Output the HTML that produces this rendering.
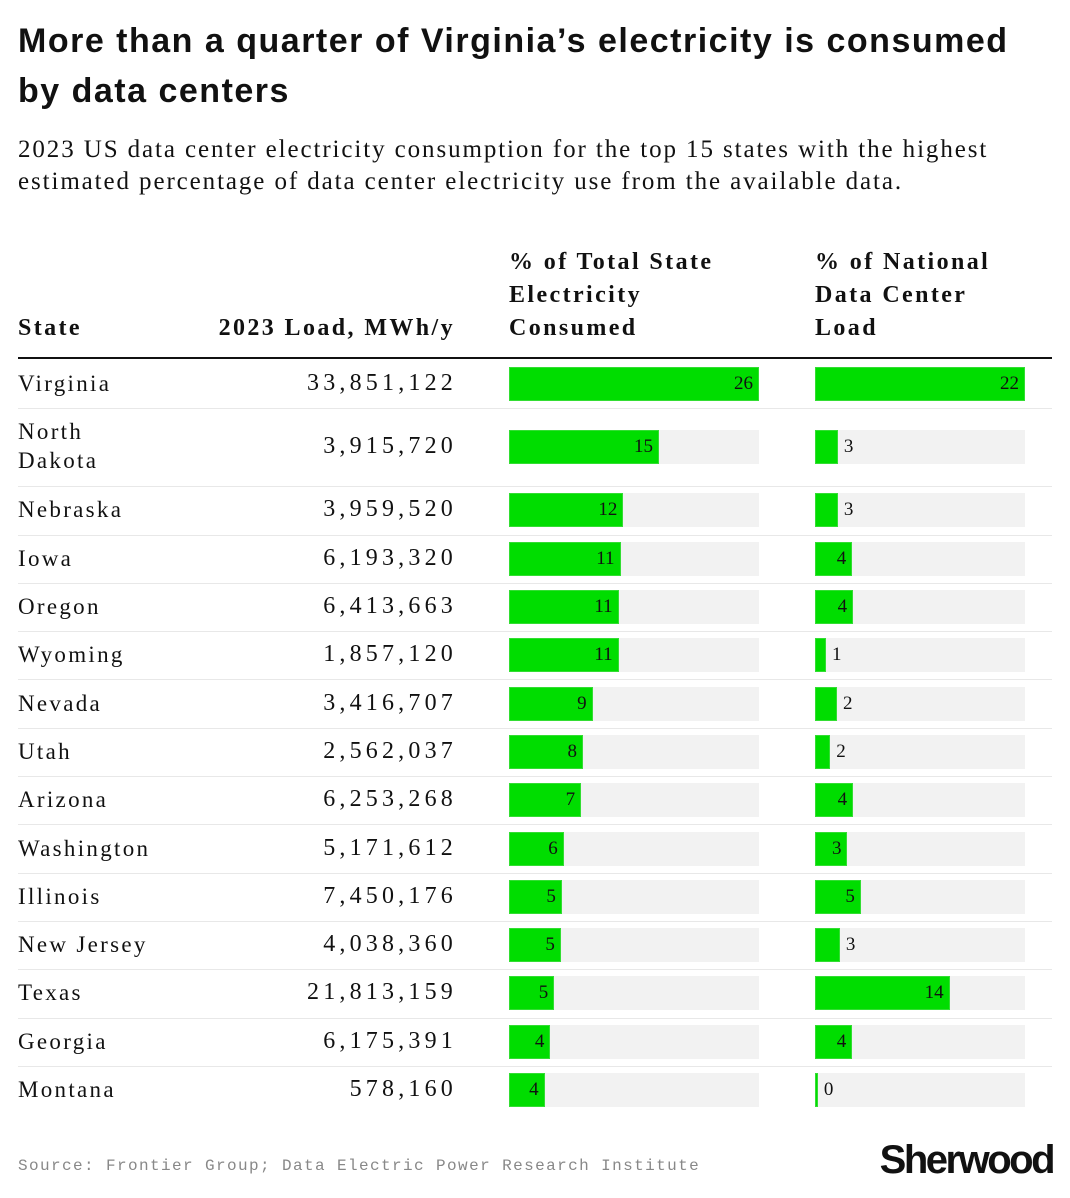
<!DOCTYPE html>
<html><head><meta charset="utf-8"><style>
body{margin:0;width:1070px;height:1198px;background:#fff;position:relative;overflow:hidden;font-family:"Liberation Serif",serif;color:#111}
.t{position:absolute;white-space:nowrap}
h1{position:absolute;left:18px;top:16px;margin:0;font:bold 34px/50px "Liberation Sans",sans-serif;width:1010px;letter-spacing:1.5px}
.sub{left:18px;top:134px;font-size:25px;line-height:32px;white-space:normal;width:1015px;letter-spacing:1.9px}
.hd{font-weight:bold;font-size:24px;line-height:33px;letter-spacing:2.4px}
.cell{font-size:23px;letter-spacing:2.3px}
.num{font-size:24px;letter-spacing:4.2px}
</style></head><body>
<h1>More than a quarter of Virginia’s electricity is consumed by data centers</h1>
<div class="t sub">2023 US data center electricity consumption for the top 15 states with the highest estimated percentage of data center electricity use from the available data.</div>
<div class="t hd" style="left:18px;top:312px">State</div>
<div class="t hd" style="right:615px;top:312px">2023 Load, MWh/y</div>
<div class="t hd" style="left:509px;top:246px">% of Total State<br>Electricity<br>Consumed</div>
<div class="t hd" style="left:815px;top:246px">% of National<br>Data Center<br>Load</div>
<div style="position:absolute;left:18px;top:357px;width:1034px;height:2px;background:#111"></div>
<div id="rows"></div>
<div class="t" style="left:18px;top:1157px;font:16px 'Liberation Mono',monospace;color:#888;letter-spacing:1.4px">Source: Frontier Group; Data Electric Power Research Institute</div>
<div class="t" style="right:17px;top:1138px;font:bold 40px 'Liberation Sans',sans-serif;letter-spacing:-2.5px">Sherwood</div>
<script>
const states=["Virginia","North Dakota","Nebraska","Iowa","Oregon","Wyoming","Nevada","Utah","Arizona","Washington","Illinois","New Jersey","Texas","Georgia","Montana"];
const loads=["33,851,122","3,915,720","3,959,520","6,193,320","6,413,663","1,857,120","3,416,707","2,562,037","6,253,268","5,171,612","7,450,176","4,038,360","21,813,159","6,175,391","578,160"];
const pctState=[26,15.6,11.9,11.6,11.4,11.4,8.7,7.7,7.5,5.7,5.5,5.4,4.7,4.3,3.7];
const pctStateLabels=["26","15","12","11","11","11","9","8","7","6","5","5","5","4","4"];
const pctNational=[22,2.4,2.4,3.9,4.0,1.15,2.3,1.6,4.0,3.4,4.8,2.6,14.1,3.9,0.3];
const pctNationalLabels=["22","3","3","4","4","1","2","2","4","3","5","3","14","4","0"];
const x1=v=>v/26*250, x2=v=>v/22*210;
const root=document.getElementById('rows');
let y=360;
function mk(cls,style,text){const d=document.createElement('div');d.className=cls;d.style.cssText=style;if(text!=null)d.textContent=text;root.appendChild(d);return d;}
states.forEach((s,i)=>{
  const h=(s==="North Dakota")?78:48.3;
  const cy=y+h/2;
  const sd=mk('t cell','left:18px;top:'+(cy-(s==="North Dakota"?30:15))+'px;line-height:29px');
  sd.innerHTML=s==="North Dakota"?"North<br>Dakota":s;
  
  
  const ld=mk('t num','right:613px;top:'+(cy-15)+'px;line-height:29px',loads[i]);
  
  
  [[509,250,x1(pctState[i]),pctStateLabels[i],'state'],[815,210,x2(pctNational[i]),pctNationalLabels[i],'national']].forEach(([x0,w,bw,lab,k])=>{
    const tr=mk('', 'position:absolute;left:'+x0+'px;top:'+(cy-17)+'px;width:'+w+'px;height:34px;background:#f2f2f2');
    
    
    const b=mk('', 'position:absolute;left:'+x0+'px;top:'+(cy-17)+'px;width:'+Math.max(bw,3)+'px;height:34px;background:#00dd00;box-sizing:border-box;border:1px solid #33dd33');
    
    
    const inside=bw>28;
    const l=mk('t','font-size:19px;line-height:34px;top:'+(cy-17)+'px;'+(inside?'left:'+(x0+bw-42)+'px;width:36px;text-align:right':'left:'+(x0+bw+6)+'px'),lab);
    
    
  });
  y+=h;
  if(i<states.length-1){const r=mk('','position:absolute;left:18px;top:'+Math.round(y)+'px;width:1034px;height:1px;background:#e8e8e8');
    
    }
});
</script>
</body></html>
